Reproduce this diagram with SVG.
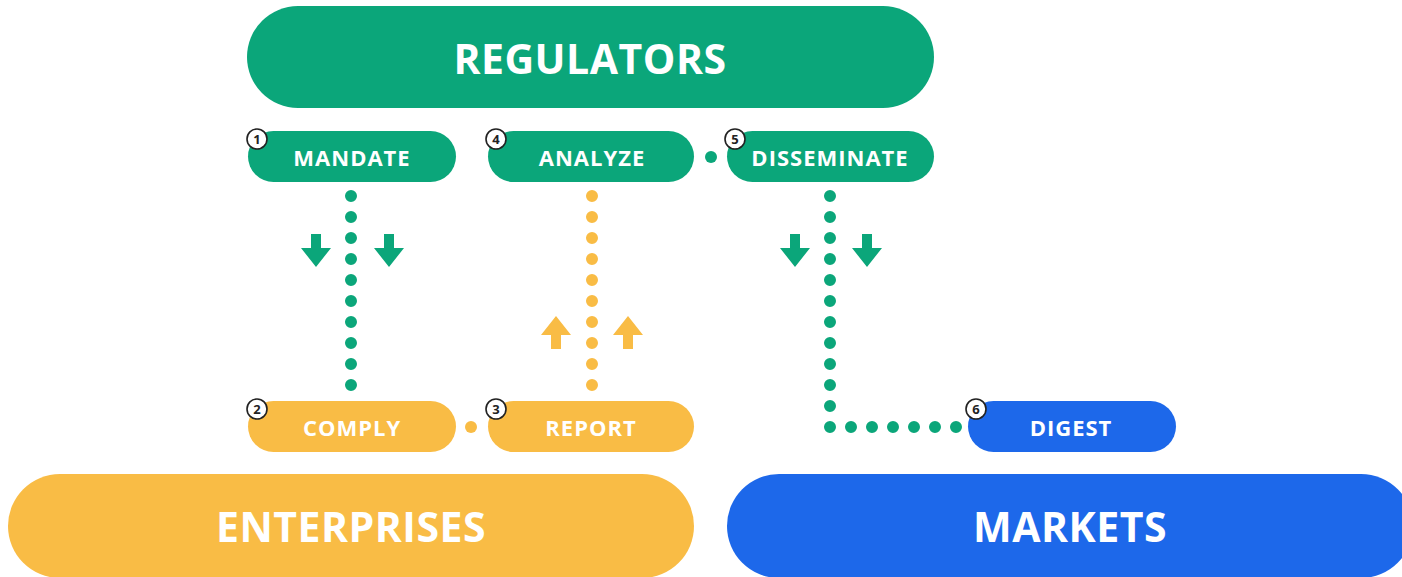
<svg xmlns="http://www.w3.org/2000/svg" width="1402" height="577" viewBox="0 0 1402 577">
<style>
.g{fill:#0ba67a}.o{fill:#f9bc45}.b{fill:#1d68ea}
.big{font-family:"Open Sans","Noto Sans",sans-serif;font-weight:700;font-size:41px;letter-spacing:0.5px;fill:#fff;text-anchor:middle;dominant-baseline:central}
.sm{font-family:"Open Sans","Noto Sans",sans-serif;font-weight:700;font-size:22px;letter-spacing:1px;fill:#fff;text-anchor:middle;dominant-baseline:central}
.bdg circle{fill:#fff;stroke:#222;stroke-width:1.6}
.bdg text{font-family:"Open Sans","Noto Sans",sans-serif;font-weight:700;font-size:13px;fill:#222;text-anchor:middle;dominant-baseline:central}
.dg{stroke:#0ba67a;stroke-width:12;stroke-linecap:round;stroke-dasharray:0 21;fill:none}
.do{stroke:#f9bc45;stroke-width:12;stroke-linecap:round;stroke-dasharray:0 21;fill:none}
</style>
<defs>
<path id="down" d="M-5,-17 H5 V-3 H15 L0,16 L-15,-3 H-5 Z"/>
<path id="up" d="M-5,17 H5 V3 H15 L0,-16 L-15,3 H-5 Z"/>
</defs>
<g id="connectors">
<path class="dg" d="M351,196 V387"/>
<path class="do" d="M592,196 V387"/>
<path class="dg" d="M830,196 V427 H957.5"/>
<circle cx="711" cy="157" r="6" class="g"/>
<circle cx="471" cy="427" r="6" class="o"/>
<use href="#down" x="316" y="251" class="g"/>
<use href="#down" x="389" y="251" class="g"/>
<use href="#up" x="556" y="332" class="o"/>
<use href="#up" x="628" y="332" class="o"/>
<use href="#down" x="795" y="251" class="g"/>
<use href="#down" x="867" y="251" class="g"/>
</g>
<g id="regulators"><rect x="247" y="6" width="687" height="102" rx="51" class="g"/><text x="590" y="58" class="big">REGULATORS</text></g>
<g id="enterprises"><rect x="8" y="474" width="686" height="104" rx="52" class="o"/><text x="351" y="526" class="big">ENTERPRISES</text></g>
<g id="markets"><rect x="727" y="474" width="686" height="104" rx="52" class="b"/><text x="1070" y="526" class="big">MARKETS</text></g>
<g id="mandate"><rect x="248" y="131" width="208" height="51" rx="25.5" class="g"/><text x="352" y="157" class="sm">MANDATE</text><g class="bdg"><circle cx="257" cy="139" r="10"/><text x="257" y="139">1</text></g></g>
<g id="analyze"><rect x="488" y="131" width="206" height="51" rx="25.5" class="g"/><text x="592" y="157" class="sm">ANALYZE</text><g class="bdg"><circle cx="496" cy="139" r="10"/><text x="496" y="139">4</text></g></g>
<g id="disseminate"><rect x="727" y="131" width="207" height="51" rx="25.5" class="g"/><text x="830" y="157" class="sm">DISSEMINATE</text><g class="bdg"><circle cx="735" cy="139" r="10"/><text x="735" y="139">5</text></g></g>
<g id="comply"><rect x="248" y="401" width="208" height="51" rx="25.5" class="o"/><text x="352" y="427" class="sm">COMPLY</text><g class="bdg"><circle cx="257" cy="409" r="10"/><text x="257" y="409">2</text></g></g>
<g id="report"><rect x="488" y="401" width="206" height="51" rx="25.5" class="o"/><text x="591" y="427" class="sm">REPORT</text><g class="bdg"><circle cx="496" cy="409" r="10"/><text x="496" y="409">3</text></g></g>
<g id="digest"><rect x="968" y="401" width="208" height="51" rx="25.5" class="b"/><text x="1071" y="427" class="sm">DIGEST</text><g class="bdg"><circle cx="976" cy="409" r="10"/><text x="976" y="409">6</text></g></g>
</svg>
